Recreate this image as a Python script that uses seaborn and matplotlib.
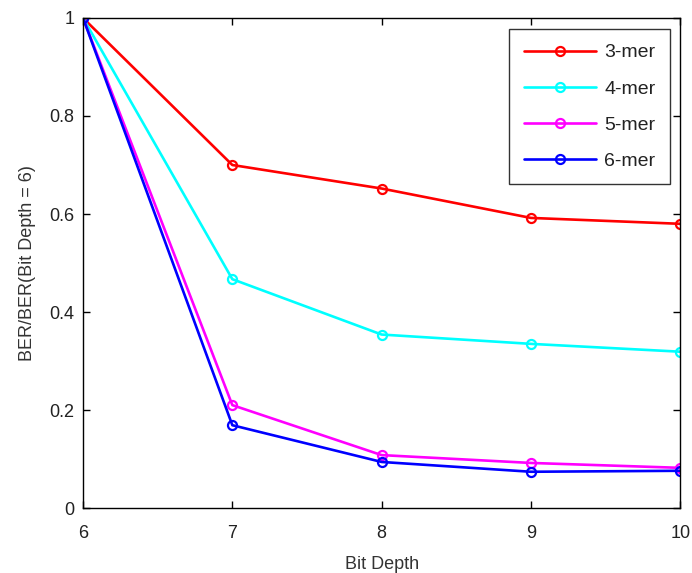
import matplotlib
matplotlib.use("Agg")
import matplotlib.pyplot as plt
import seaborn as sns
import pandas as pd

bit_depth = [6, 7, 8, 9, 10]
mer3 = [1.0, 0.70, 0.652, 0.592, 0.580]
mer4 = [1.0, 0.467, 0.354, 0.335, 0.319]
mer5 = [1.0, 0.210, 0.108, 0.092, 0.082]
mer6 = [1.0, 0.169, 0.094, 0.074, 0.076]
series_names = ["3-mer", "4-mer", "5-mer", "6-mer"]
colors = ["#ff0000", "#00ffff", "#ff00ff", "#0000ff"]

df = pd.DataFrame({
    "Bit Depth": bit_depth * 4,
    "value": mer3 + mer4 + mer5 + mer6,
    "series": sum([[n] * len(bit_depth) for n in series_names], []),
})

sns.set_theme(style="white")
plt.rcParams["font.family"] = ["Liberation Sans", "DejaVu Sans"]

fig = plt.figure(figsize=(6.92, 5.73), dpi=100)
ax = fig.add_axes([0.12, 0.1134, 0.863, 0.8552])

sns.lineplot(data=df, x="Bit Depth", y="value", hue="series",
             palette=dict(zip(series_names, colors)), marker="o",
             markersize=6.5, markerfacecolor="none", markeredgewidth=1.6,
             linewidth=1.9, ax=ax, legend=True)
for line, c in zip(ax.lines, colors):
    line.set_markeredgecolor(c)

ax.set_xlim(6, 10)
ax.set_ylim(0, 1)
ax.set_xticks(bit_depth)
ax.set_xticklabels([str(v) for v in bit_depth])
ax.set_yticks([0, 0.2, 0.4, 0.6, 0.8, 1.0])
ax.set_yticklabels(["0", "0.2", "0.4", "0.6", "0.8", "1"])
ax.tick_params(direction="in", length=5, width=1, labelsize=13, colors="black",
               labelcolor="#222222",
               top=True, right=True, bottom=True, left=True, pad=6)
ax.tick_params(axis="x", pad=12)
for s in ax.spines.values():
    s.set_color("black")
    s.set_linewidth(1)
ax.set_xlabel("Bit Depth", fontsize=13, color="#333333", labelpad=10)
ax.set_ylabel("BER/BER(Bit Depth = 6)", fontsize=13, color="#333333", labelpad=10)

handles, labels = ax.get_legend_handles_labels()
for h, c in zip(handles, colors):
    h.set_markerfacecolor("none")
    h.set_markeredgecolor(c)
leg = ax.legend(handles, labels, loc="upper right", fontsize=14, frameon=True,
                fancybox=False, edgecolor="black", handlelength=3.7,
                handletextpad=0.45, labelspacing=0.95, borderpad=0.75,
                bbox_to_anchor=(0.983, 0.977), borderaxespad=0)
leg.get_frame().set_linewidth(1)
for t in leg.get_texts():
    t.set_color("#222222")

fig.savefig("out.png", dpi=100)
